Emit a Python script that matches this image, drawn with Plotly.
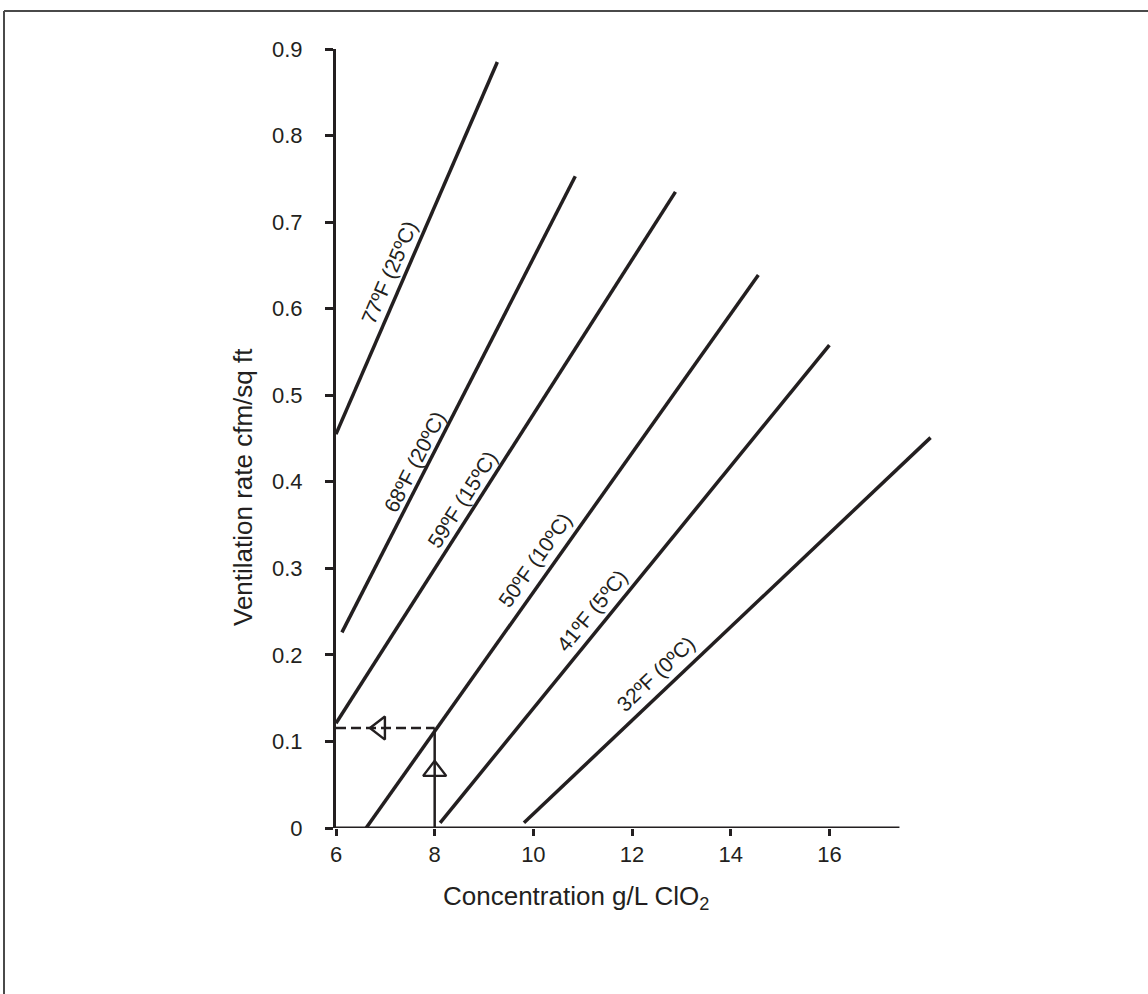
import math
import plotly.graph_objects as go

# ---- data ----
series_names = ["77ºF (25ºC)", "68ºF (20ºC)", "59ºF (15ºC)", "50ºF (10ºC)", "41ºF (5ºC)", "32ºF (0ºC)"]
conc_start = [6.0, 6.12, 6.0, 6.61, 8.11, 9.81]
vent_start = [0.455, 0.226, 0.121, 0.0, 0.006, 0.006]
conc_end = [9.27, 10.85, 12.88, 14.56, 16.0, 18.05]
vent_end = [0.885, 0.753, 0.735, 0.639, 0.558, 0.451]

# label anchor points (layout)
label_x = [7.075, 7.60, 8.556, 10.04, 11.19, 12.49]
label_y = [0.642, 0.423, 0.380, 0.310, 0.251, 0.178]

x_ticks = [6, 8, 10, 12, 14, 16]
x_tick_labels = ["6", "8", "10", "12", "14", "16"]
y_ticks = [0, 0.1, 0.2, 0.3, 0.4, 0.5, 0.6, 0.7, 0.8, 0.9]
y_tick_labels = ["0", "0.1", "0.2", "0.3", "0.4", "0.5", "0.6", "0.7", "0.8", "0.9"]

# example reading
example_conc = 8.0
example_vent = 0.1155
arrow_left_x = 6.89
arrow_up_y = 0.066

# ---- layout geometry ----
W, H = 1148, 994
ML, MR, MT, MB = 336, 215, 49, 166
XR = [6, 18.1]
YR = [0, 0.9]
pw = W - ML - MR
ph = H - MT - MB
sx = pw / (XR[1] - XR[0])
sy = ph / (YR[1] - YR[0])

INK = "#231f20"
FONT = "Liberation Sans, Arial, Helvetica, sans-serif"

fig = go.Figure()

for i, name in enumerate(series_names):
    fig.add_trace(go.Scatter(
        x=[conc_start[i], conc_end[i]], y=[vent_start[i], vent_end[i]],
        mode="lines", line=dict(color=INK, width=3.5), name=name,
        showlegend=False, hoverinfo="skip"))

# dashed horizontal guide and vertical guide
fig.add_trace(go.Scatter(x=[XR[0], example_conc], y=[example_vent, example_vent],
                         mode="lines", line=dict(color=INK, width=2.5, dash="10px,5px"),
                         showlegend=False, hoverinfo="skip"))
fig.add_trace(go.Scatter(x=[example_conc, example_conc], y=[0, example_vent],
                         mode="lines", line=dict(color=INK, width=2.5),
                         showlegend=False, hoverinfo="skip"))
fig.add_trace(go.Scatter(x=[arrow_left_x], y=[example_vent], mode="markers",
                         marker=dict(symbol="triangle-left-open", size=20, color=INK,
                                     line=dict(width=2.4, color=INK)),
                         showlegend=False, hoverinfo="skip", cliponaxis=False))
fig.add_trace(go.Scatter(x=[example_conc], y=[arrow_up_y], mode="markers",
                         marker=dict(symbol="triangle-up-open", size=20, color=INK,
                                     line=dict(width=2.4, color=INK)),
                         showlegend=False, hoverinfo="skip", cliponaxis=False))

# line labels, rotated along each line
for i, name in enumerate(series_names):
    dxp = (conc_end[i] - conc_start[i]) * sx
    dyp = (vent_end[i] - vent_start[i]) * sy
    ang = math.degrees(math.atan2(dyp, dxp))
    fig.add_annotation(x=label_x[i], y=label_y[i], xref="x", yref="y", text=name,
                       textangle=-ang, showarrow=False, xanchor="center", yanchor="middle",
                       font=dict(family=FONT, size=21, color=INK))

# axis titles
fig.add_annotation(x=(575.5 - ML) / pw, y=(H - MB - 897) / ph, xref="paper", yref="paper",
                   text="Concentration g/L ClO<sub>2</sub>", showarrow=False,
                   xanchor="center", yanchor="middle",
                   font=dict(family=FONT, size=26, color=INK))
fig.add_annotation(x=(243 - ML) / pw, y=(H - MB - 487) / ph, xref="paper", yref="paper",
                   text="Ventilation rate cfm/sq ft", showarrow=False, textangle=-90,
                   xanchor="center", yanchor="middle",
                   font=dict(family=FONT, size=26, color=INK))

# x axis line (shorter than plotting range)
fig.add_shape(type="line", xref="x", yref="y", x0=5.82, x1=17.42, y0=0, y1=0,
              line=dict(color=INK, width=3))

# outer frame (top and left edges)
def px_x(p):
    return (p - ML) / pw

def px_y(p):
    return (H - MB - p) / ph

fig.add_shape(type="line", xref="paper", yref="paper", x0=px_x(4), x1=px_x(1150),
              y0=px_y(11), y1=px_y(11), line=dict(color="#4a4a4a", width=2))
fig.add_shape(type="line", xref="paper", yref="paper", x0=px_x(4), x1=px_x(4),
              y0=px_y(11), y1=px_y(996), line=dict(color="#4a4a4a", width=2))

fig.update_layout(
    width=W, height=H,
    margin=dict(l=ML, r=MR, t=MT, b=MB, pad=0),
    paper_bgcolor="white", plot_bgcolor="white",
    showlegend=False,
    xaxis=dict(range=XR, showgrid=False, zeroline=False, showline=False,
               tickmode="array", tickvals=x_ticks, ticktext=x_tick_labels,
               ticks="outside", ticklen=7, tickwidth=2.5, tickcolor=INK,
               ticklabelstandoff=0,
               tickfont=dict(family=FONT, size=22, color=INK)),
    yaxis=dict(range=YR, showgrid=False, zeroline=False, showline=True,
               linecolor=INK, linewidth=3,
               tickmode="array", tickvals=y_ticks, ticktext=y_tick_labels,
               ticks="outside", ticklen=8, tickwidth=2.5, tickcolor=INK,
               ticklabelstandoff=18,
               tickfont=dict(family=FONT, size=22, color=INK)),
)

fig.write_html("out.html",
               config={"displayModeBar": False},
               post_script="document.body.style.margin='0';document.body.style.padding='0';")
